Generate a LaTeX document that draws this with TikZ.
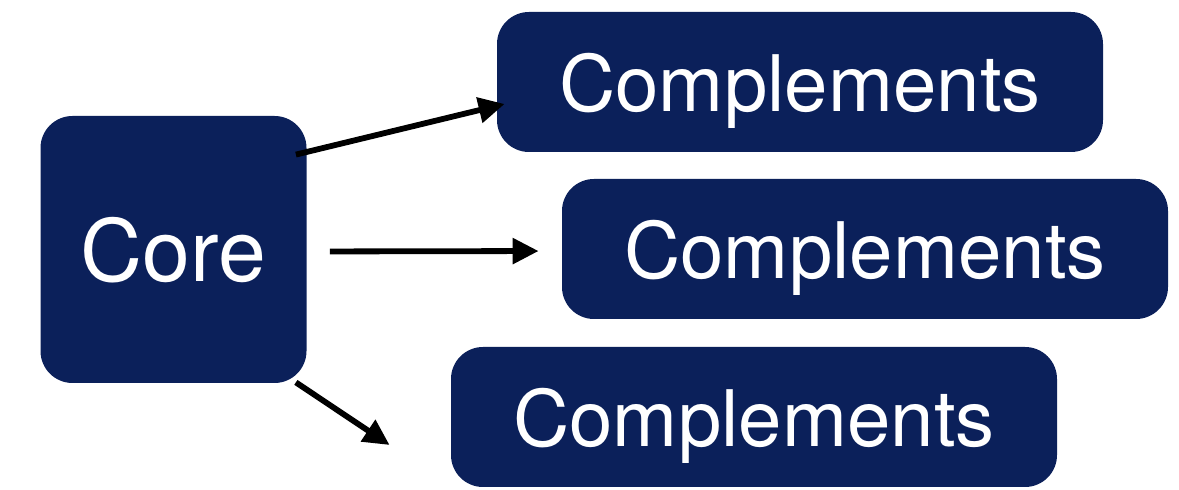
\documentclass[tikz,border=0pt]{standalone}
\usepackage{fontspec}
\setmainfont{TeX Gyre Heros}
\usepackage{tikz}
\usetikzlibrary{arrows.meta,positioning,calc}
\definecolor{navy}{RGB}{11,32,90}
\tikzset{
  box/.style={fill=navy, text=white, rounded corners=16pt, inner sep=0pt, text depth=0pt},
  corebox/.style={box, minimum width=133pt, minimum height=133.5pt, font=\fontsize{43}{50}\selectfont},
  compbox/.style={box, minimum width=303pt, minimum height=70pt, font=\fontsize{39}{46}\selectfont},
  flow/.style={line width=2.9pt, -{Triangle[length=13pt, width=12.5pt]}}
}
\begin{document}
\begin{tikzpicture}[x=0.5pt, y=-0.5pt]
\useasboundingbox (0,0) rectangle (1179,490);
\node[corebox] (core) at (173.5,249.5) {Core};
\node[compbox] (top) at (800,82) {Complements};
\node[compbox] (mid) at (865,249) {Complements};
\node[compbox] (bot) at (754,417) {Complements};
\coordinate (s1) at ($(core.north east)+(-11,39)$);
\coordinate (e1) at ($(top.west)+(8,22)$);
\coordinate (s3) at ($(core.south east)+(-11,-1)$);
\coordinate (e3) at ($(bot.west)+(-61,28)$);
\draw[flow] (s1) -- (e1);
\draw[flow, shorten <=23*0.5pt, shorten >=23*0.5pt] ([yshift=-1pt]core.east) -- ([yshift=-1pt]mid.west);
\draw[flow] (s3) -- (e3);
\end{tikzpicture}
\end{document}
